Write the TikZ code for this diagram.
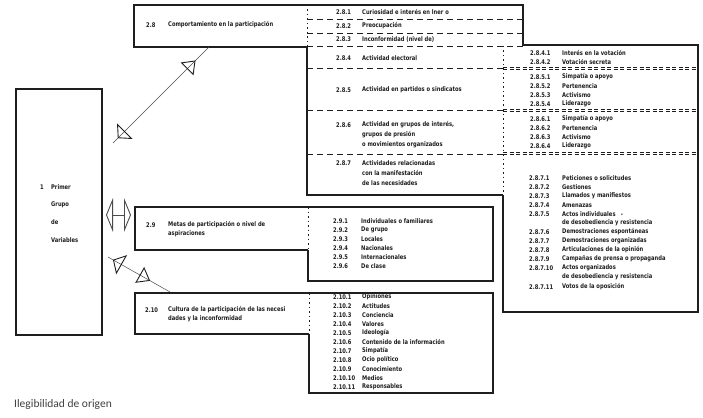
\documentclass[tikz,border=0pt]{standalone}
\usepackage{fontspec}
\newfontfamily\cf{DejaVuSansCondensed}[Extension=.ttf,BoldFont=DejaVuSansCondensed-Bold,FakeStretch=0.9]
\newfontfamily\capfont{Carlito}
\usetikzlibrary{arrows.meta,decorations.markings}
\definecolor{ink}{HTML}{1E1E1E}
\newcommand\rowitem[6]{\node[lbl] (n#1) at (#2,#4) {#5};\node[lbl] (t#1) at (#3,#4) {#6};}
\begin{document}
\begin{tikzpicture}[x=1pt,y=-1pt,
 ln/.style={line width=1.1pt, draw=ink},
 dsh/.style={line width=0.7pt, draw=ink, dash pattern=on 6pt off 4pt},
 dbl/.style={line width=0.5pt, draw=ink, dash pattern=on 4pt off 2.5pt},
 dotl/.style={line width=0.9pt, draw=ink, dash pattern=on 1.5pt off 3pt},
 lbl/.style={font=\cf\bfseries\fontsize{6.4}{7.5}\selectfont, text=ink, inner sep=0pt, anchor=west},
 area/.style={inner sep=0pt, outer sep=0pt, draw=none, anchor=north west},
 conn/.style={line width=0.5pt, draw=ink!80},
 tipA/.style={line width=0.9pt, draw=ink},
]
\useasboundingbox[fill=white] (0,0) rectangle (703,417);

% ---- areas
\node[area, minimum width=86pt, minimum height=246pt] (v1) at (16,89) {};
\node[area, minimum width=173pt, minimum height=42pt] (h28) at (134,5) {};
\node[area, minimum width=216pt, minimum height=41pt] (s28) at (307,5) {};
\node[area, minimum width=196pt, minimum height=149pt] (m28) at (307,46) {};
\node[area, minimum width=195pt, minimum height=267pt] (r28) at (503,45) {};
\node[area, minimum width=173pt, minimum height=43pt] (h29) at (135,207) {};
\node[area, minimum width=185pt, minimum height=74pt] (i29) at (308,207) {};
\node[area, minimum width=174pt, minimum height=41pt] (h210) at (135,293) {};
\node[area, minimum width=184pt, minimum height=100pt] (i210) at (309,293) {};

% ---- left box
\draw[ln] (v1.north west) rectangle (v1.south east);
\node[lbl] (v1n) at (40,187) {1};
\node[lbl] (v1a) at (51,187) {Primer};
\node[lbl] (v1b) at (51,205) {Grupo};
\node[lbl] (v1c) at (51,222) {de};
\node[lbl] (v1d) at (51,240) {Variables};

% ---- 2.8 header and strip
\draw[ln] (h28.north east) -- (h28.north west) -- (h28.south west) -- (h28.south east);
\draw[dotl] (h28.north east) -- (h28.south east);
\draw[ln] (s28.north west) -- (s28.north east) -- (s28.south east);
\draw[dsh] (307,19.5) -- (523,19.5);
\draw[dsh] (307,33) -- (523,33);
\draw[dsh] (s28.south west) -- (s28.south east);
\node[lbl] (h28n) at (146,25) {2.8};
\node[lbl] (h28t) at (168,25) {Comportamiento en la participación};
\rowitem{281}{336}{362}{12}{2.8.1}{Curiosidad e interés en lner o}
\rowitem{282}{336}{362}{26}{2.8.2}{Preocupación}
\rowitem{283}{336}{362}{39.5}{2.8.3}{Inconformidad (nivel de)}

% ---- middle column
\draw[ln] (m28.north west) -- (m28.south west) -- (m28.south east);
\draw[dotl] (m28.north east) -- (m28.south east);
\foreach \yy in {68,110,154} {\draw[dsh] (307,\yy) -- (503,\yy);}
\rowitem{284}{336}{362}{58}{2.8.4}{Actividad electoral}
\rowitem{285}{336}{362}{90}{2.8.5}{Actividad en partidos o sindicatos}
\rowitem{286}{336}{362}{125}{2.8.6}{Actividad en grupos de interés,}
\node[lbl] (t286b) at (362,135) {grupos de presión};
\node[lbl] (t286c) at (362,145) {o movimientos organizados};
\rowitem{287}{336}{362}{163}{2.8.7}{Actividades relacionadas}
\node[lbl] (t287b) at (362,173) {con la manifestación};
\node[lbl] (t287c) at (362,183) {de las necesidades};

% ---- right box
\draw[ln] (523,45) -- (r28.north east) -- (r28.south east) -- (r28.south west) -- (503,195);
\foreach \yy in {68.5,110.5,153.5} {\draw[dbl] (503,\yy-1.2) -- (698,\yy-1.2); \draw[dbl] (503,\yy+1.2) -- (698,\yy+1.2);}
\rowitem{2841}{530}{562}{53}{2.8.4.1}{Interés en la votación}
\rowitem{2842}{530}{562}{62}{2.8.4.2}{Votación secreta}
\rowitem{2851}{530}{562}{77}{2.8.5.1}{Simpatía o apoyo}
\rowitem{2852}{530}{562}{86}{2.8.5.2}{Pertenencia}
\rowitem{2853}{530}{562}{95}{2.8.5.3}{Activismo}
\rowitem{2854}{530}{562}{104}{2.8.5.4}{Liderazgo}
\rowitem{2861}{530}{562}{119}{2.8.6.1}{Simpatía o apoyo}
\rowitem{2862}{530}{562}{128}{2.8.6.2}{Pertenencia}
\rowitem{2863}{530}{562}{137}{2.8.6.3}{Activismo}
\rowitem{2864}{530}{562}{146}{2.8.6.4}{Liderazgo}
\rowitem{2871}{529}{562}{178}{2.8.7.1}{Peticiones o solicitudes}
\rowitem{2872}{529}{562}{187}{2.8.7.2}{Gestiones}
\rowitem{2873}{529}{562}{196}{2.8.7.3}{Llamados y manifiestos}
\rowitem{2874}{529}{562}{205}{2.8.7.4}{Amenazas}
\rowitem{2875}{529}{562}{214}{2.8.7.5}{Actos individuales \ \ -}
\node[lbl] (t2875b) at (562,223) {de desobediencia y resistencia};
\rowitem{2876}{529}{562}{232}{2.8.7.6}{Demostraciones espontáneas}
\rowitem{2877}{529}{562}{241}{2.8.7.7}{Demostraciones organizadas}
\rowitem{2878}{529}{562}{250}{2.8.7.8}{Articulaciones de la opinión}
\rowitem{2879}{529}{562}{259}{2.8.7.9}{Campañas de prensa o propaganda}
\rowitem{28710}{529}{562}{268}{2.8.7.10}{Actos organizados}
\node[lbl] (t28710b) at (562,277) {de desobediencia y resistencia};
\rowitem{28711}{529}{562}{287}{2.8.7.11}{Votos de la oposición}

% ---- 2.9
\draw[ln] (h29.north east) -- (h29.north west) -- (h29.south west) -- (h29.south east);
\draw[dotl] (h29.north east) -- (h29.south east);
\draw[ln] (i29.north west) -- (i29.north east) -- (i29.south east) -- (i29.south west) -- (308,250);
\node[lbl] (h29n) at (146,225) {2.9};
\node[lbl] (h29t) at (168,225) {Metas de participación o nivel de};
\node[lbl] (h29u) at (168,234) {aspiraciones};
\rowitem{291}{333}{361}{221}{2.9.1}{Individuales o familiares}
\rowitem{292}{333}{361}{230}{2.9.2}{De grupo}
\rowitem{293}{333}{361}{239}{2.9.3}{Locales}
\rowitem{294}{333}{361}{248}{2.9.4}{Nacionales}
\rowitem{295}{333}{361}{257}{2.9.5}{Internacionales}
\rowitem{296}{333}{361}{266}{2.9.6}{De clase}

% ---- 2.10
\draw[ln] (h210.north east) -- (h210.north west) -- (h210.south west) -- (h210.south east);
\draw[dotl] (h210.north east) -- (h210.south east);
\draw[ln] (i210.north west) -- (i210.north east) -- (i210.south east) -- (i210.south west) -- (309,334);
\node[lbl] (h210n) at (145,310) {2.10};
\node[lbl] (h210t) at (168,310) {Cultura de la participación de las necesi};
\node[lbl] (h210u) at (168,319) {dades y la inconformidad};
\rowitem{2101}{333}{362}{297}{2.10.1}{Opiniones}
\rowitem{2102}{333}{362}{306}{2.10.2}{Actitudes}
\rowitem{2103}{333}{362}{315}{2.10.3}{Conciencia}
\rowitem{2104}{333}{362}{324}{2.10.4}{Valores}
\rowitem{2105}{333}{362}{333}{2.10.5}{Ideología}
\rowitem{2106}{333}{362}{342}{2.10.6}{Contenido de la información}
\rowitem{2107}{333}{362}{351}{2.10.7}{Simpatía}
\rowitem{2108}{333}{362}{360}{2.10.8}{Ocio político}
\rowitem{2109}{333}{362}{369}{2.10.9}{Conocimiento}
\rowitem{21010}{333}{362}{378}{2.10.10}{Medios}
\rowitem{21011}{333}{362}{387}{2.10.11}{Responsables}

% ---- connectors
\coordinate (c1a) at (113,143);
\coordinate (c1b) at (209,47);
\draw[conn, postaction={decorate, decoration={markings,
   mark=at position 0.05 with {\arrowreversed[tipA]{Triangle[open,length=10pt,width=22pt]}},
   mark=at position 0.86 with {\arrow[tipA]{Triangle[open,length=12pt,width=18pt]}}}}] (c1a) -- (c1b);
\coordinate (c2a) at (106,215);
\coordinate (c2b) at (131,215);
\draw[conn, {Triangle[open,length=7pt,width=34pt,line width=0.9pt]}-{Triangle[open,length=7pt,width=34pt,line width=0.9pt]}] (c2a) -- (c2b);
\coordinate (c3a) at (108,257);
\coordinate (c3b) at (170,292);
\draw[conn, postaction={decorate, decoration={markings,
   mark=at position 0.08 with {\arrowreversed[tipA]{Triangle[open,length=10pt,width=22pt]}},
   mark=at position 0.68 with {\arrow[tipA]{Triangle[open,length=12pt,width=18pt]}}}}] (c3a) -- (c3b);

% ---- caption
\node[inner sep=0pt, anchor=west, font=\capfont\fontsize{11.5}{13}\selectfont, text=ink!85] (cap) at (14,404) {Ilegibilidad de origen};
\end{tikzpicture}
\end{document}
